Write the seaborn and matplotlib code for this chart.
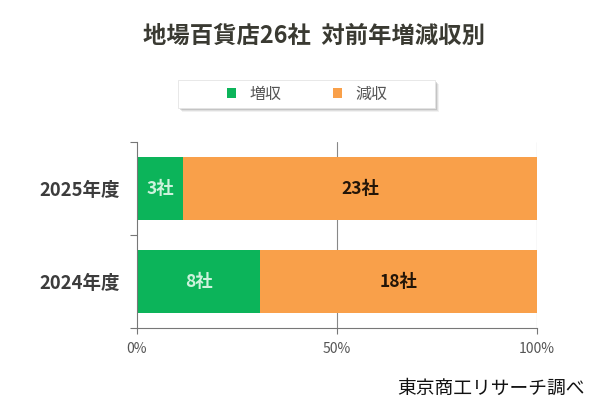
import matplotlib
matplotlib.use("Agg")
import matplotlib.pyplot as plt
import seaborn as sns
import pandas as pd
from matplotlib.patches import Patch, Rectangle

years = ["2025年度", "2024年度"]
increase = [3, 8]
decrease = [23, 18]
series_names = ["増収", "減収"]
xtick_labels = ["0%", "50%", "100%"]

sns.set_theme(style="white")
plt.rcParams['font.family'] = ['Noto Sans CJK JP', 'DejaVu Sans']

green = "#0CB45A"
orange = "#F9A04A"

total = [a + b for a, b in zip(increase, decrease)]
df = pd.DataFrame({
    "year": years,
    "inc_pct": [a / t * 100 for a, t in zip(increase, total)],
    "tot_pct": [100.0 for _ in total],
})

fig = plt.figure(figsize=(6, 4.16), dpi=100)
ax = fig.add_axes([0.2283, 0.2115, 0.6667, 0.447])

sns.barplot(data=df, y="year", x="tot_pct", color=orange, orient="h",
            width=0.68, ax=ax, saturation=1, edgecolor="none")
sns.barplot(data=df, y="year", x="inc_pct", color=green, orient="h",
            width=0.68, ax=ax, saturation=1, edgecolor="none")

for i, (inc, dec, t) in enumerate(zip(increase, decrease, total)):
    ip = inc / t * 100
    ax.text(ip / 2, i, f"{inc}社", ha="center", va="center", fontsize=12.5,
            fontweight="bold", color="#CDF2DC")
    ax.text(ip + (100 - ip) / 2, i, f"{dec}社", ha="center", va="center",
            fontsize=12.5, fontweight="bold", color="#231508")

ax.set_xlim(0, 100)
ax.set_ylim(1.5, -0.5)
ax.set_xticks([0, 50, 100])
ax.set_xticklabels(xtick_labels, fontsize=10, color="#555555")
ax.set_yticks([-0.5, 0.5, 1.5], minor=False)
ax.set_yticklabels([])
ax.set_yticks([0, 1], minor=True)
ax.set_yticklabels(years, minor=True, fontsize=13.3, fontweight="bold", color="#3C3C3C")
ax.tick_params(axis="y", which="major", left=True, length=5, width=0.8, color="#777777")
ax.tick_params(axis="y", which="minor", left=False, pad=8)
ax.tick_params(axis="x", which="major", bottom=True, length=4, width=0.8,
               color="#777777", direction="out", pad=6)
ax.set_xlabel("")
ax.set_ylabel("")
ax.grid(False)
for x in [50, 100]:
    ax.axvline(x, color="#888888", lw=0.8, zorder=0)
for s in ["top", "right"]:
    ax.spines[s].set_visible(False)
for s in ["left", "bottom"]:
    ax.spines[s].set_color("#777777")
    ax.spines[s].set_linewidth(0.8)

fig.text(0.523, 0.913, "地場百貨店26社  対前年増減収別", ha="center", va="center",
         fontsize=16.8, fontweight="bold", color="#3A3A32")

# legend frame with shadow
fx0, fy0, fw, fh = 178 / 600, 1 - 108 / 416, 257 / 600, 28 / 416
for k, a in [(4, 0.10), (3, 0.15), (2, 0.25)]:
    fig.patches.append(Rectangle((fx0 + k / 600, fy0 - k / 416), fw, fh,
                                 transform=fig.transFigure, facecolor="#777777",
                                 edgecolor="none", alpha=a, zorder=1))
fig.patches.append(Rectangle((fx0, fy0), fw, fh, transform=fig.transFigure,
                             facecolor="white", edgecolor="#e4e4e4", lw=0.6, zorder=2))

handles = [Patch(facecolor=green, edgecolor="none"), Patch(facecolor=orange, edgecolor="none")]
leg = fig.legend(handles, series_names, loc="center", bbox_to_anchor=(0.512, 0.774),
                 ncol=2, frameon=False, fontsize=11.5, handlelength=0.55, handleheight=0.55,
                 columnspacing=3.2, handletextpad=0.85, borderpad=0.2)
leg.set_zorder(3)
for t in leg.get_texts():
    t.set_color("#555555")

fig.text(0.975, 0.067, "東京商工リサーチ調べ", ha="right", va="center",
         fontsize=13.5, color="#111111")

fig.savefig("out.png", dpi=100)
